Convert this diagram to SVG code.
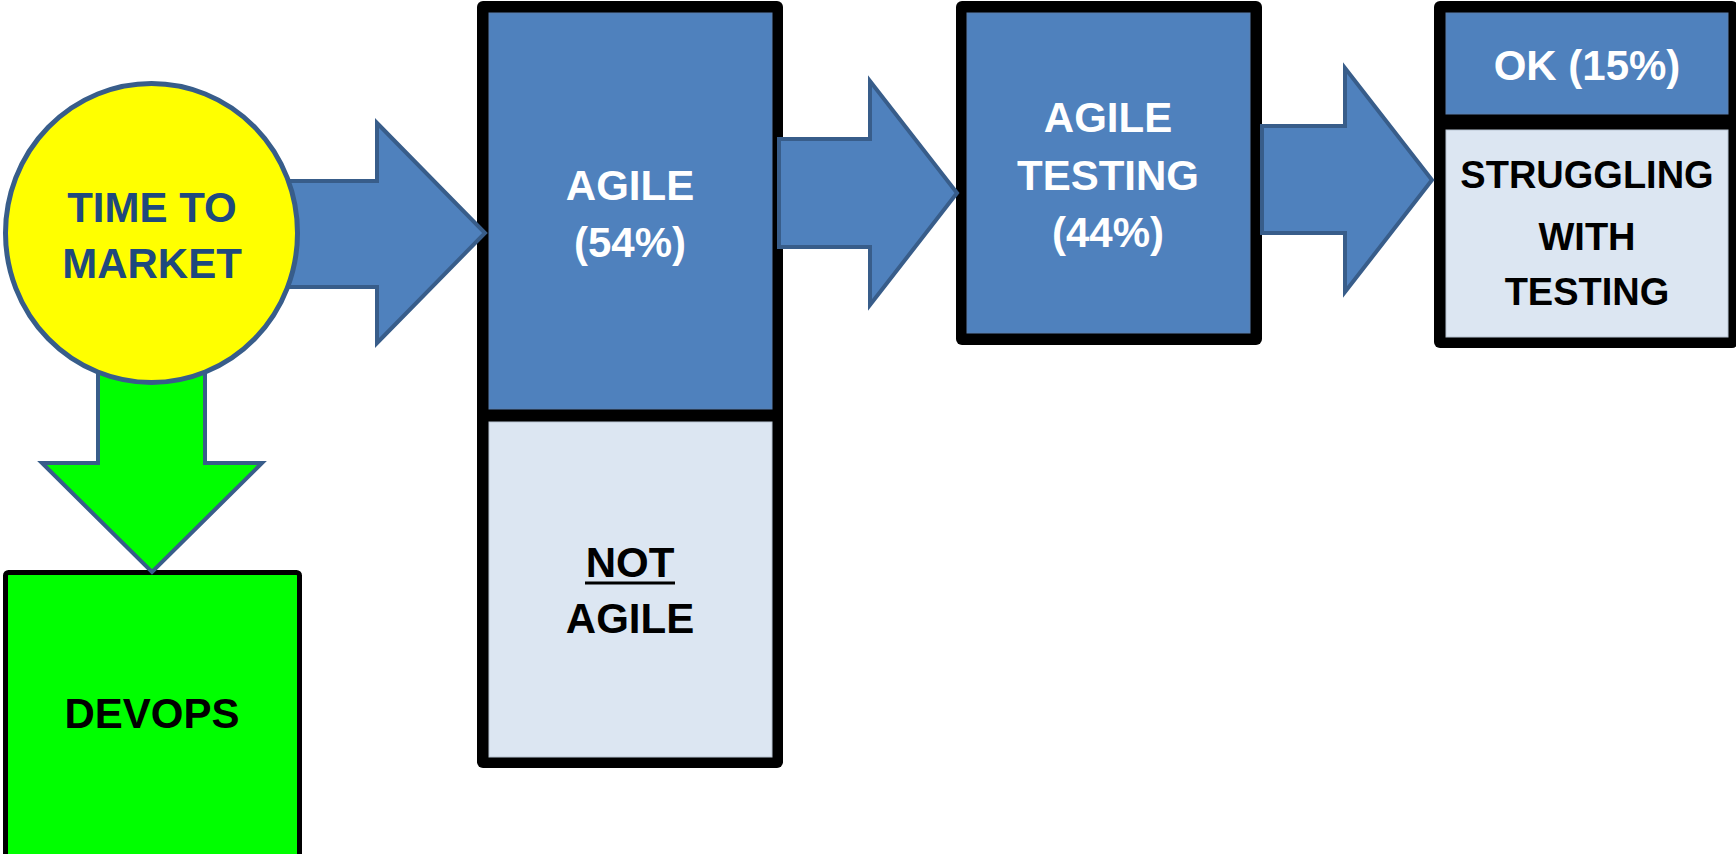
<svg xmlns="http://www.w3.org/2000/svg" width="1736" height="854" viewBox="0 0 1736 854">
<style>
.t{font-family:"Liberation Sans",Arial,sans-serif;font-weight:bold;font-size:42px;text-anchor:middle}
.w{fill:#ffffff}.k{fill:#000000}.db{fill:#1F497D}
.frame{fill:#000000}
.blue{fill:#4F81BD;stroke:#5a7fae;stroke-width:1}
.light{fill:#DCE6F2;stroke:#b9c5d3;stroke-width:1}
.arr{fill:#4F81BD;stroke:#385D8A;stroke-width:4;stroke-linejoin:miter}
.garr{fill:#00FF00;stroke:#385D8A;stroke-width:4}
</style>
<rect width="1736" height="854" fill="#ffffff"/>
<g id="devops">
<rect x="5.5" y="572.5" width="294" height="300" rx="3" fill="#00FF00" stroke="#000000" stroke-width="5"/>
<text class="t k" x="152" y="728">DEVOPS</text>
</g>
<g id="agile">
<rect class="frame" x="477" y="1" width="306" height="767" rx="6"/>
<rect class="blue" x="489" y="13" width="283" height="396"/>
<rect class="light" x="489" y="422" width="283" height="335"/>
<text class="t w" x="630" y="200">AGILE</text>
<text class="t w" x="630" y="257">(54%)</text>
<text class="t k" x="630" y="577">NOT</text>
<line x1="585" y1="583" x2="675" y2="583" stroke="#000000" stroke-width="3"/>
<text class="t k" x="630" y="633">AGILE</text>
</g>
<g id="agile-testing">
<rect class="frame" x="956" y="1" width="306" height="344" rx="6"/>
<rect class="blue" x="967" y="13" width="283" height="320"/>
<text class="t w" x="1108" y="132">AGILE</text>
<text class="t w" x="1108" y="190">TESTING</text>
<text class="t w" x="1108" y="247">(44%)</text>
</g>
<g id="testing-result">
<rect class="frame" x="1434" y="1" width="304" height="347" rx="6"/>
<rect class="blue" x="1446" y="13" width="282" height="101"/>
<rect class="light" x="1446" y="130" width="282" height="207"/>
<text class="t w" x="1587" y="80">OK (15%)</text>
<text class="t k" x="1587" y="188" style="font-size:38px">STRUGGLING</text>
<text class="t k" x="1587" y="250" style="font-size:38px">WITH</text>
<text class="t k" x="1587" y="305" style="font-size:38px">TESTING</text>
</g>
<g id="connectors">
<polygon class="arr" points="250,181 377,181 377,123 485,233 377,343 377,287 250,287"/>
<polygon class="garr" points="98,330 98,463 42,463 152,572 262,463 205,463 205,330"/>
<polygon class="arr" points="779,139 870,139 870,81 957,193 870,305 870,247 779,247"/>
<polygon class="arr" points="1262,126 1345,126 1345,68 1432,180 1345,292 1345,233 1262,233"/>
</g>
<g id="time-to-market">
<ellipse cx="151.5" cy="233" rx="146" ry="149.5" fill="#FFFF00" stroke="#385D8A" stroke-width="5"/>
<text class="t db" x="152" y="222">TIME TO</text>
<text class="t db" x="152" y="278">MARKET</text>
</g>
</svg>
